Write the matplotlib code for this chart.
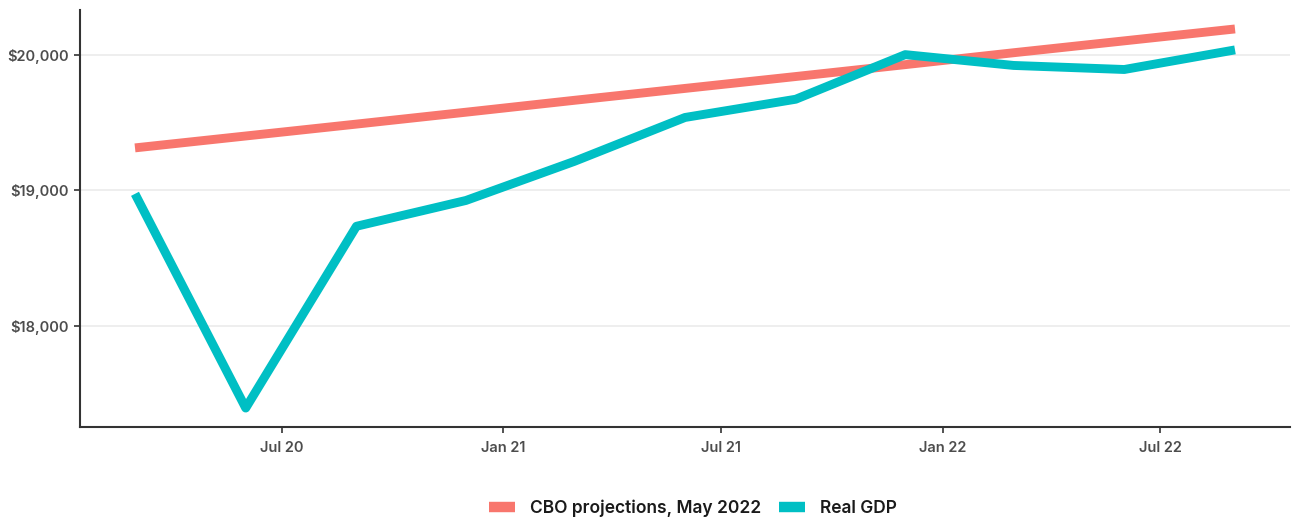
import matplotlib
matplotlib.use("Agg")
import matplotlib.pyplot as plt
import matplotlib.dates as mdates
from matplotlib.lines import Line2D
from matplotlib.ticker import FuncFormatter
import pandas as pd

# Quarterly points (plotted at the middle-ish month of each quarter)
dates = pd.to_datetime([
    "2020-03-01", "2020-06-01", "2020-09-01", "2020-12-01",
    "2021-03-01", "2021-06-01", "2021-09-01", "2021-12-01",
    "2022-03-01", "2022-06-01", "2022-09-01",
])
# Billions of chained dollars
real_gdp = [18975, 17390, 18735, 18926, 19215, 19540, 19675, 20005, 19925, 19895, 20040]
cbo_projection = [19315, 19403, 19491, 19579, 19667, 19755, 19843, 19931, 20019, 20107, 20195]

series_labels = ["CBO projections, May 2022", "Real GDP"]
series_colors = ["#F8766D", "#00BFC4"]
y_ticks = [18000, 19000, 20000]
x_ticks = pd.to_datetime(["2020-07-01", "2021-01-01", "2021-07-01", "2022-01-01", "2022-07-01"])

plt.rcParams["font.family"] = ["Inter", "DejaVu Sans"]

fig = plt.figure(figsize=(12.92, 5.21), dpi=100)
ax = fig.add_axes([80 / 1292, 1 - 427 / 521, 1210 / 1292, 417 / 521])

line_kw = dict(linewidth=6.4, solid_capstyle="butt", solid_joinstyle="round")
ax.plot(dates, cbo_projection, color=series_colors[0], zorder=3, **line_kw)
ax.plot(dates, real_gdp, color=series_colors[1], zorder=4, **line_kw)

# ggplot-style 5% expansion on both axes
span = dates[-1] - dates[0]
ax.set_xlim(dates[0] - span * 0.05, dates[-1] + span * 0.05)
all_vals = real_gdp + cbo_projection
lo, hi = min(all_vals), max(all_vals)
pad = (hi - lo) * 0.05
ax.set_ylim(lo - pad, hi + pad)

ax.set_xticks(x_ticks)
ax.xaxis.set_major_formatter(mdates.DateFormatter("%b %y"))
ax.set_yticks(y_ticks)
ax.yaxis.set_major_formatter(FuncFormatter(lambda v, _: f"${v:,.0f}"))

ax.grid(axis="y", color="#ebebeb", linewidth=1.2)
ax.set_axisbelow(True)
for side in ["top", "right"]:
    ax.spines[side].set_visible(False)
for side in ["left", "bottom"]:
    ax.spines[side].set_color("#333333")
    ax.spines[side].set_linewidth(1.5)
ax.tick_params(axis="both", colors="#333333", length=4, width=1.2,
               labelsize=10.5, labelcolor="#4d4d4d")
for lbl in ax.get_xticklabels() + ax.get_yticklabels():
    lbl.set_fontweight("semibold")
ax.tick_params(axis="x", pad=6)
ax.tick_params(axis="y", pad=4)

# legend is centred under the plot panel, not the whole figure
handles = [Line2D([], [], color=c, linewidth=7.5, solid_capstyle="butt") for c in series_colors]
leg = fig.legend(handles, series_labels, loc="center", bbox_to_anchor=(693 / 1292, 1 - 508 / 521),
                 ncol=2, frameon=False, handlelength=1.5, handletextpad=0.9,
                 columnspacing=1.0, prop={"size": 12.5, "weight": "semibold"})
for t in leg.get_texts():
    t.set_color("#1a1a1a")

fig.savefig("out.png", dpi=100)
plt.close(fig)
